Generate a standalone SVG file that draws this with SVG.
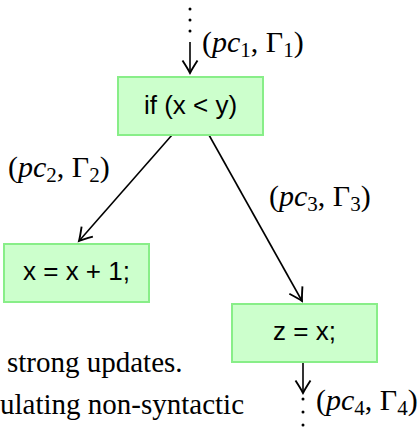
<svg xmlns="http://www.w3.org/2000/svg" width="419" height="429" viewBox="0 0 419 429">
<defs>
<marker id="ah" markerUnits="userSpaceOnUse" markerWidth="20" markerHeight="20" viewBox="-12 -8 14 16" refX="0" refY="0" orient="auto">
<path d="M -10 -6 Q -3 -1.5 0 0 Q -3 1.5 -10 6" fill="none" stroke="#000" stroke-width="1.5"/>
</marker>
<style>
.box{fill:#ccffcc;stroke:#88ee88;stroke-width:2}
.lbl{font-family:"Liberation Sans",Arial,sans-serif;font-size:26px;fill:#000;text-anchor:middle}
.m{font-family:"Liberation Serif","Times New Roman",serif;font-size:30px;fill:#000}
.it{font-style:italic}
.sub{font-size:21px}
.body{font-family:"Liberation Serif","Times New Roman",serif;font-size:29px;fill:#000}
.edge{stroke:#000;stroke-width:1.6;fill:none}
.dot{fill:#000}
</style>
</defs>
<g id="connectors">
<circle class="dot" cx="190" cy="9" r="1.5"/>
<circle class="dot" cx="190" cy="20" r="1.5"/>
<circle class="dot" cx="190" cy="31" r="1.5"/>
<line class="edge" x1="190" y1="42" x2="190" y2="73" marker-end="url(#ah)"/>
<line class="edge" x1="172" y1="135" x2="79" y2="241" marker-end="url(#ah)"/>
<line class="edge" x1="209" y1="135" x2="302" y2="301" marker-end="url(#ah)"/>
<line class="edge" x1="303" y1="362" x2="303" y2="393" marker-end="url(#ah)"/>
<circle class="dot" cx="303" cy="399" r="1.5"/>
<circle class="dot" cx="303" cy="412" r="1.5"/>
<circle class="dot" cx="303" cy="425" r="1.5"/>
<text class="m" x="202" y="52">(<tspan class="it">pc</tspan><tspan class="sub" dy="5">1</tspan><tspan dy="-5">, Γ</tspan><tspan class="sub" dy="5">1</tspan><tspan dy="-5">)</tspan></text>
<text class="m" x="8" y="177">(<tspan class="it">pc</tspan><tspan class="sub" dy="5">2</tspan><tspan dy="-5">, Γ</tspan><tspan class="sub" dy="5">2</tspan><tspan dy="-5">)</tspan></text>
<text class="m" x="269" y="206">(<tspan class="it">pc</tspan><tspan class="sub" dy="5">3</tspan><tspan dy="-5">, Γ</tspan><tspan class="sub" dy="5">3</tspan><tspan dy="-5">)</tspan></text>
<text class="m" x="316" y="410">(<tspan class="it">pc</tspan><tspan class="sub" dy="5">4</tspan><tspan dy="-5">, Γ</tspan><tspan class="sub" dy="5">4</tspan><tspan dy="-5">)</tspan></text>
</g>
<g id="n_if">
<rect class="box" x="118" y="77" width="145" height="58"/>
<text class="lbl" x="190.5" y="114">if (x &lt; y)</text>
</g>
<g id="n_x">
<rect class="box" x="4" y="244" width="145" height="58"/>
<text class="lbl" x="76.5" y="280">x = x + 1;</text>
</g>
<g id="n_z">
<rect class="box" x="232" y="304" width="145" height="58"/>
<text class="lbl" x="304.5" y="340">z = x;</text>
</g>
<g id="body_text">
<text class="body" x="7" y="372">strong updates.</text>
<text class="body" x="0" y="414">ulating non-syntactic</text>
</g>
</svg>
